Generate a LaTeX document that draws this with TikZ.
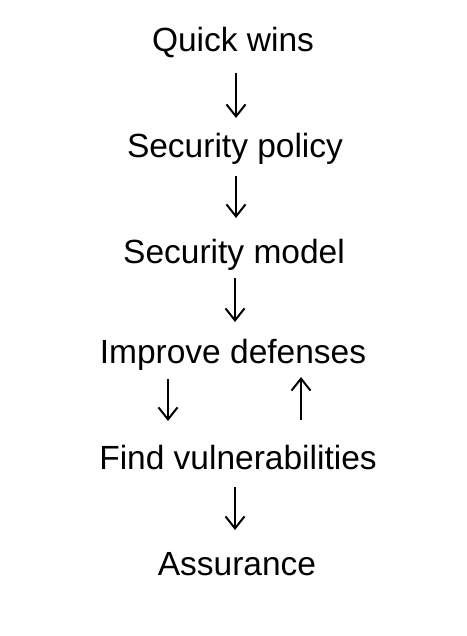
\documentclass[tikz,border=0pt]{standalone}
\usepackage{fontspec}
\setmainfont{Liberation Sans}
\usetikzlibrary{arrows.meta}
\begin{document}
\begin{tikzpicture}[x=1pt,y=-1pt,
  lbl/.style={anchor=base,inner sep=0pt,font=\fontsize{33.5}{40}\selectfont},
  arr/.style={line width=2pt,-{Straight Barb[length=12pt,width=19pt,line width=2pt]}}]
\useasboundingbox (0,0) rectangle (466,636);
\node[lbl] (q) at (233,52) {Quick wins};
\node[lbl] (sp) at (235,158) {Security policy};
\node[lbl] (sm) at (234,263) {Security model};
\node[lbl] (id) at (233,363) {Improve defenses};
\node[lbl] (fv) at (238,469) {Find vulnerabilities};
\node[lbl] (as) at (237,575) {Assurance};
\draw[arr] ([xshift=3pt,yshift=-21pt]q.base) -- ([xshift=1pt,yshift=40pt]sp.base);
\draw[arr] ([xshift=1pt,yshift=-18pt]sp.base) -- ([xshift=2pt,yshift=45pt]sm.base);
\draw[arr] ([xshift=1pt,yshift=-15pt]sm.base) -- ([xshift=2pt,yshift=41pt]id.base);
\draw[arr] ([xshift=-65pt,yshift=-16pt]id.base) -- ([xshift=-70pt,yshift=48pt]fv.base);
\draw[arr] ([xshift=63pt,yshift=49pt]fv.base) -- ([xshift=68pt,yshift=-14pt]id.base);
\draw[arr] ([xshift=-3pt,yshift=-18pt]fv.base) -- ([xshift=-2pt,yshift=45pt]as.base);
\end{tikzpicture}
\end{document}
